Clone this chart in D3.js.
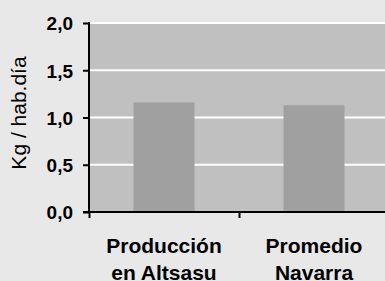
<!DOCTYPE html>
<html>
<head>
<meta charset="utf-8">
<script src="https://cdn.jsdelivr.net/npm/d3@7"></script>
<style>
  body { margin:0; background:#e8e8e8; overflow:hidden; }
  text { font-family: "Liberation Sans", Arial, sans-serif; fill:#000; }
</style>
</head>
<body>
<script>
var categories = [["Producción","en Altsasu"],["Promedio","Navarra"]];
var values = [1.16, 1.13];
var yTicks = [0, 0.5, 1.0, 1.5, 2.0];
var yLabel = "Kg / hab.día";

var w = 385, h = 281;
var plotLeft = 89, plotTop = 23, plotBottom = 212, plotRight = 389;

var SVG = d3.select("body").append("svg").attr("width", w).attr("height", h);

var x = d3.scaleBand().domain(d3.range(categories.length)).range([plotLeft, plotRight]).paddingInner(0).paddingOuter(0);
var y = d3.scaleLinear().domain([0, 2]).range([plotBottom, plotTop]);

// plot area
SVG.append("rect").attr("x", plotLeft).attr("y", plotTop).attr("width", plotRight - plotLeft).attr("height", plotBottom - plotTop).attr("fill", "#c0c0c0");

// grid
SVG.selectAll(".grid").data(yTicks.filter(function(d){ return d > 0; })).enter()
   .append("line").attr("class","grid")
   .attr("x1", plotLeft).attr("x2", w)
   .attr("y1", function(d){ return y(d); }).attr("y2", function(d){ return y(d); })
   .attr("stroke", "#fff").attr("stroke-width", 2);

// bars
var bw = 61;
SVG.selectAll(".bar").data(values).enter()
   .append("rect").attr("class","bar")
   .attr("x", function(d,i){ return x(i) + x.bandwidth()/2 - bw/2; })
   .attr("y", function(d){ return y(d); })
   .attr("width", bw)
   .attr("height", function(d){ return plotBottom - y(d); })
   .attr("fill", "#a0a0a0");

// y axis
var yAxis = d3.axisLeft(y).tickValues(yTicks).tickSize(6).tickPadding(10)
              .tickFormat(function(d){ return d3.format(".1f")(d).replace(".", ","); });
var gy = SVG.append("g").attr("transform", "translate(" + plotLeft + ",0)").call(yAxis);
gy.select(".domain").remove();
gy.selectAll("line").attr("stroke", "#000").attr("stroke-width", 2);
gy.selectAll("text").style("font-size", "19px").style("font-weight", "bold").attr("dy", "0.36em");
SVG.append("line").attr("x1", plotLeft).attr("x2", plotLeft).attr("y1", plotTop - 1).attr("y2", plotBottom + 1)
   .attr("stroke", "#000").attr("stroke-width", 2);

// x axis
var xAxisScale = d3.scaleLinear().domain([0, categories.length]).range([plotLeft, plotRight]);
var gx = SVG.append("g").attr("transform", "translate(0," + plotBottom + ")")
            .call(d3.axisBottom(xAxisScale).tickValues(d3.range(categories.length + 1)).tickSize(6).tickFormat(""));
gx.select(".domain").remove();
gx.selectAll("line").attr("stroke", "#000").attr("stroke-width", 2);
SVG.append("line").attr("x1", plotLeft - 6).attr("x2", w).attr("y1", plotBottom).attr("y2", plotBottom)
   .attr("stroke", "#000").attr("stroke-width", 2);

// category labels
categories.forEach(function(lines, i){
  var t = SVG.append("text").attr("text-anchor", "middle")
     .attr("x", x(i) + x.bandwidth()/2).attr("y", 253)
     .style("font-size", "21px").style("font-weight", "bold");
  lines.forEach(function(l, j){
    t.append("tspan").attr("x", x(i) + x.bandwidth()/2).attr("dy", j ? 27 : 0).text(l);
  });
});

// y label
SVG.append("text").attr("transform", "translate(26," + 113 + ") rotate(-90)")
   .attr("text-anchor", "middle").style("font-size", "21px").text(yLabel);
</script>
</body>
</html>
